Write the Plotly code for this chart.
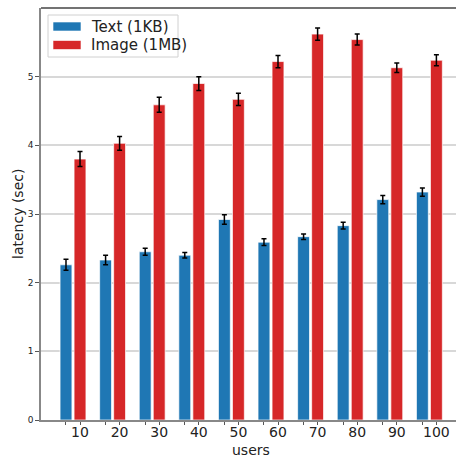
import plotly.graph_objects as go

users = ["10", "20", "30", "40", "50", "60", "70", "80", "90", "100"]
text_latency = [2.26, 2.33, 2.45, 2.40, 2.92, 2.59, 2.67, 2.83, 3.21, 3.32]
text_err = [0.08, 0.07, 0.05, 0.04, 0.07, 0.05, 0.04, 0.05, 0.06, 0.06]
image_latency = [3.80, 4.03, 4.59, 4.90, 4.67, 5.22, 5.62, 5.54, 5.13, 5.24]
image_err = [0.11, 0.10, 0.11, 0.10, 0.09, 0.09, 0.09, 0.08, 0.07, 0.08]
yticks = [0, 1, 2, 3, 4, 5]
series_names = ["Text (1KB)", "Image (1MB)"]
series_colors = ["#1f77b4", "#d62728"]

pos = list(range(len(users)))
bar_w = 0.30
blue_off = -0.354

# plot area in pixels (for paper-coordinate helpers)
L, R, T, B = 41, 456, 8, 420
def px(x):
    return (x - L) / (R - L)
def py(y):
    return (B - y) / (B - T)

fig = go.Figure()
fig.add_trace(go.Bar(
    x=pos, y=text_latency, name=series_names[0], showlegend=False,
    width=bar_w, offset=blue_off - bar_w / 2,
    marker=dict(color=series_colors[0], line=dict(color="rgba(255,255,255,0.7)", width=1)),
    error_y=dict(type="data", array=text_err, color="black", thickness=1.5, width=2.5),
))
fig.add_trace(go.Bar(
    x=pos, y=image_latency, name=series_names[1], showlegend=False,
    width=bar_w, offset=-bar_w / 2,
    marker=dict(color=series_colors[1], line=dict(color="rgba(255,255,255,0.7)", width=1)),
    error_y=dict(type="data", array=image_err, color="black", thickness=1.5, width=2.5),
))

# top spine
fig.add_shape(type="line", xref="paper", yref="paper", x0=0, x1=1, y0=1, y1=1,
              line=dict(color="#444444", width=1.5))

# custom legend (wide patches like matplotlib)
fig.add_shape(type="rect", xref="paper", yref="paper",
              x0=px(48), x1=px(178), y0=py(57), y1=py(15),
              line=dict(color="#d0d0d0", width=1), fillcolor="rgba(255,255,255,0.8)")
for k, (name, col) in enumerate(zip(series_names, series_colors)):
    yc = 26.5 + 18.5 * k
    fig.add_shape(type="rect", xref="paper", yref="paper",
                  x0=px(53), x1=px(81), y0=py(yc + 4.5), y1=py(yc - 4.5),
                  line=dict(color="rgba(255,255,255,0.6)", width=1), fillcolor=col)
    fig.add_annotation(xref="paper", yref="paper", x=px(89), y=py(yc),
                       xanchor="left", yanchor="middle", showarrow=False,
                       text=name, font=dict(size=15, color="#222222"))

# axis titles
fig.add_annotation(xref="paper", yref="paper", x=px(251), y=py(450),
                   xanchor="center", yanchor="middle", showarrow=False,
                   text="users", font=dict(size=14, color="#222222"))
fig.add_annotation(xref="paper", yref="paper", x=px(18), y=py(214),
                   xanchor="center", yanchor="middle", showarrow=False, textangle=-90,
                   text="latency (sec)", font=dict(size=14, color="#222222"))

fig.update_layout(
    width=456, height=458,
    margin=dict(l=L, r=456 - R, t=T, b=458 - B),
    plot_bgcolor="white", paper_bgcolor="white",
    barmode="overlay",
    font=dict(family="DejaVu Sans", color="#222222"),
    showlegend=False,
    xaxis=dict(
        range=[-0.985, 9.495],
        tickmode="array", tickvals=pos, ticktext=users,
        tickfont=dict(size=14),
        ticks="outside", ticklen=3, tickcolor="#555555",
        ticklabelstandoff=-5,
        showline=True, linecolor="#888888", linewidth=1.5,
        showgrid=False, zeroline=False,
        minor=dict(tickvals=[p + blue_off for p in pos], ticks="outside",
                   ticklen=3, tickcolor="#555555", showgrid=False),
    ),
    yaxis=dict(
        range=[0, 6],
        tickmode="array", tickvals=yticks, ticktext=[str(v) for v in yticks],
        tickfont=dict(size=9),
        ticks="outside", ticklen=4, tickcolor="#555555",
        showline=True, linecolor="#888888", linewidth=1.5,
        showgrid=True, gridcolor="#d8d8d8", gridwidth=1.5,
        zeroline=False,
    ),
)

fig.write_html("out.html")
